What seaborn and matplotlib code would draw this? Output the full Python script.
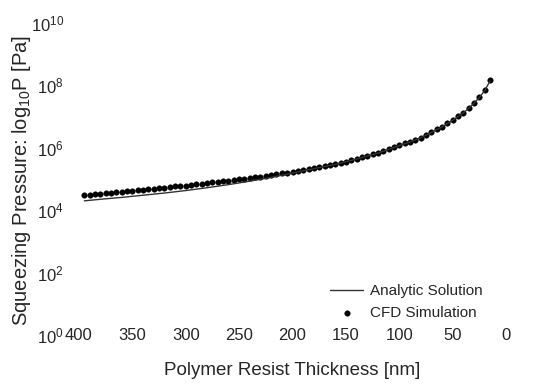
import numpy as np
import pandas as pd
import seaborn as sns
import matplotlib.pyplot as plt

# ---------------- data (log10 of pressure in Pa) ----------------
cfd_thickness = [395, 390, 385, 380, 375, 370, 365, 360, 355, 350,
                 345, 340, 335, 330, 325, 320, 315, 310, 305, 300,
                 295, 290, 285, 280, 275, 270, 265, 260, 255, 250,
                 245, 240, 235, 230, 225, 220, 215, 210, 205, 200,
                 195, 190, 185, 180, 175, 170, 165, 160, 155, 150,
                 145, 140, 135, 130, 125, 120, 115, 110, 105, 100,
                 95, 90, 85, 80, 75, 70, 65, 60, 55, 50,
                 45, 40, 35, 30, 25, 20, 15]
cfd_log_p = [4.49, 4.50, 4.52, 4.53, 4.55, 4.56, 4.58, 4.59, 4.61, 4.63,
             4.64, 4.66, 4.67, 4.69, 4.71, 4.72, 4.74, 4.76, 4.77, 4.79,
             4.81, 4.83, 4.85, 4.87, 4.89, 4.91, 4.93, 4.95, 4.97, 4.99,
             5.01, 5.03, 5.06, 5.08, 5.10, 5.13, 5.15, 5.18, 5.20, 5.23,
             5.26, 5.29, 5.32, 5.35, 5.38, 5.41, 5.45, 5.48, 5.52, 5.56,
             5.60, 5.65, 5.70, 5.75, 5.79, 5.84, 5.90, 5.96, 6.02, 6.08,
             6.14, 6.20, 6.26, 6.33, 6.41, 6.50, 6.59, 6.68, 6.78, 6.89,
             7.01, 7.13, 7.27, 7.44, 7.62, 7.84, 8.16]

analytic_thickness = [395, 380, 360, 340, 320, 300, 280, 260, 240, 220,
                      200, 180, 160, 140, 120, 100, 90, 80, 70, 60,
                      50, 45, 40, 35, 30, 25, 20, 15]
analytic_log_p = [4.30, 4.35, 4.41, 4.48, 4.55, 4.63, 4.72, 4.82, 4.93, 5.05,
                  5.19, 5.33, 5.47, 5.64, 5.83, 6.07, 6.19, 6.32, 6.49, 6.67,
                  6.88, 7.00, 7.12, 7.26, 7.43, 7.61, 7.83, 8.14]

x_ticks = [400, 350, 300, 250, 200, 150, 100, 50, 0]
y_ticks = [1e0, 1e2, 1e4, 1e6, 1e8, 1e10]

cfd = pd.DataFrame({"h": cfd_thickness, "P": 10 ** np.array(cfd_log_p)})
analytic = pd.DataFrame({"h": analytic_thickness, "P": 10 ** np.array(analytic_log_p)})

# ---------------- style ----------------
sns.set_style("white")
plt.rcParams["font.family"] = ["Liberation Sans", "DejaVu Sans"]
plt.rcParams["mathtext.fontset"] = "custom"
plt.rcParams["mathtext.rm"] = "Liberation Sans"
plt.rcParams["mathtext.it"] = "Liberation Sans"

fig = plt.figure(figsize=(5.33, 3.84), dpi=100)
ax = fig.add_axes([79 / 533, 1 - 335 / 384, 427 / 533, 312 / 384])

sns.lineplot(data=analytic, x="h", y="P", ax=ax, color="#333333",
             linewidth=1.0, label="Analytic Solution")
sns.scatterplot(data=cfd, x="h", y="P", ax=ax, color="black", s=16,
                edgecolor="black", linewidth=0.3, label="CFD Simulation")

ax.set_yscale("log")
ax.set_xlim(400, 0)
ax.set_ylim(1e0, 1e10)
ax.set_xticks(x_ticks)
ax.set_xticklabels([str(t) for t in x_ticks])
ax.set_yticks(y_ticks)
ax.set_yticklabels([r"$10^{%d}$" % int(np.log10(t)) for t in y_ticks])
ax.minorticks_off()
ax.tick_params(axis="x", length=0, pad=-5, labelsize=12)
ax.tick_params(axis="y", length=0, pad=11, labelsize=12)

for s in ax.spines.values():
    s.set_visible(False)

ax.set_xlabel("Polymer Resist Thickness [nm]", fontsize=13.5)
ax.set_ylabel(r"Squeezing Pressure: log$_{10}$P [Pa]", fontsize=14.5)
ax.xaxis.set_label_coords(0.5, -0.088)
ax.yaxis.set_label_coords(-0.108, 0.495)

ax.legend(loc="upper left", bbox_to_anchor=(0.574, 0.183), frameon=False,
          fontsize=11, handlelength=2.15, handletextpad=0.45,
          labelspacing=0.5, borderaxespad=0)

fig.savefig("out.png", dpi=100)
